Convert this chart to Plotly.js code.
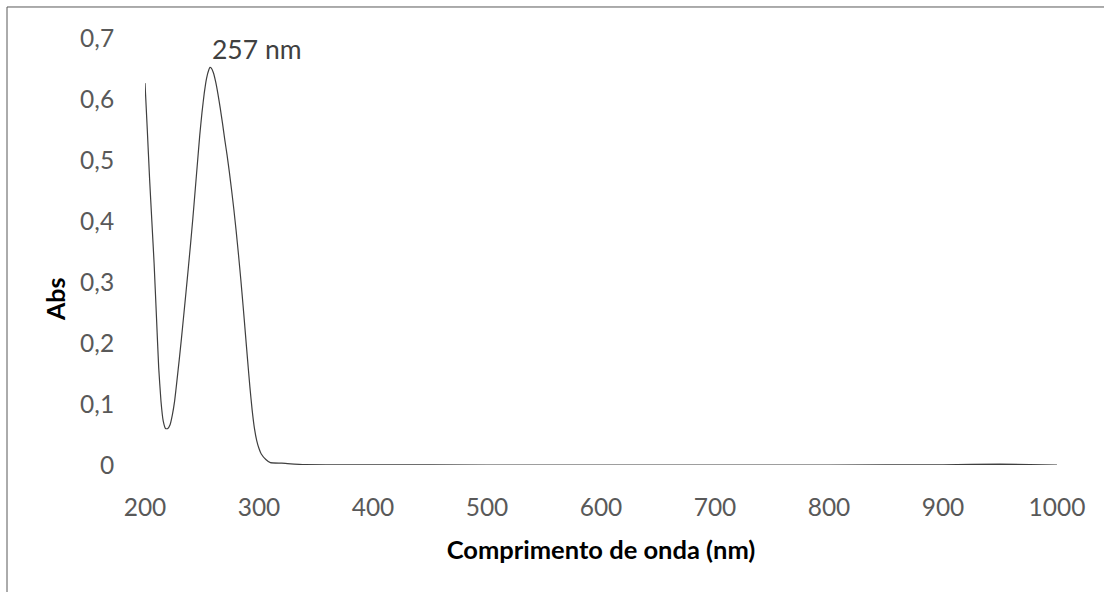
<!DOCTYPE html>
<html>
<head>
<meta charset="utf-8">
<script src="https://cdn.plot.ly/plotly-3.0.1.min.js"></script>
<style>
  html, body { margin: 0; padding: 0; background: #ffffff; }
  #chart { width: 1104px; height: 592px; }
</style>
</head>
<body>
<div id="chart"></div>
<script>
// UV-Vis absorption spectrum
const wavelength = [
  200, 202, 204, 206, 208, 210, 212, 214, 216, 218, 220, 222, 224, 226, 228,
  230, 232, 234, 236, 238, 240, 242, 244, 246, 248, 250, 252, 254, 256, 257,
  258, 260, 262, 264, 266, 268, 270, 272, 274, 276, 278, 280, 282, 284, 286,
  288, 290, 292, 294, 296, 298, 300, 302, 306, 310, 320, 340, 400, 500, 600,
  700, 800, 900, 950, 1000
];
const absorbance = [
  0.626, 0.55, 0.47, 0.40, 0.33, 0.245, 0.16, 0.105, 0.072, 0.060, 0.060, 0.066, 0.082, 0.105, 0.138,
  0.172, 0.208, 0.246, 0.284, 0.323, 0.363, 0.405, 0.45, 0.495, 0.54, 0.578, 0.61, 0.634, 0.648, 0.652,
  0.651, 0.643, 0.628, 0.608, 0.585, 0.56, 0.533, 0.508, 0.48, 0.45, 0.418, 0.383, 0.345, 0.305, 0.262,
  0.217, 0.172, 0.128, 0.09, 0.06, 0.04, 0.027, 0.018, 0.009, 0.004, 0.003, 0.0005, 0.0003, 0.0, 0.0,
  0.0, 0.0, 0.0003, 0.0015, 0.0
];

const yTickValues = [0, 0.1, 0.2, 0.3, 0.4, 0.5, 0.6, 0.7];
const yTickLabels = ['0', '0,1', '0,2', '0,3', '0,4', '0,5', '0,6', '0,7'];
const xTickValues = [200, 300, 400, 500, 600, 700, 800, 900, 1000];
const xTickLabels = ['200', '300', '400', '500', '600', '700', '800', '900', '1000'];

const peakWavelength = 257;
const peakAbsorbance = 0.652;
const peakLabel = '257 nm';
const xTitle = 'Comprimento de onda (nm)';
const yTitle = 'Abs';

const fontFamily = 'Lato, "Open Sans", sans-serif';

const trace = {
  x: wavelength,
  y: absorbance,
  type: 'scatter',
  mode: 'lines',
  line: { color: '#3f3f3f', width: 1.2, shape: 'spline', smoothing: 0.4 },
  hoverinfo: 'skip'
};

const layout = {
  width: 1104,
  height: 592,
  margin: { l: 145, r: 47, t: 38, b: 127 },
  paper_bgcolor: '#ffffff',
  plot_bgcolor: '#ffffff',
  showlegend: false,
  font: { family: fontFamily, color: '#595959', size: 24 },
  xaxis: {
    range: [200, 1000],
    tickvals: xTickValues,
    ticktext: xTickLabels,
    showgrid: false,
    zeroline: false,
    showline: false,
    ticks: 'outside',
    ticklen: 21,
    tickcolor: 'rgba(0,0,0,0)',
    tickfont: { family: fontFamily, size: 24.5, color: '#595959' },
    title: {
      text: '<b>' + xTitle + '</b>',
      font: { family: fontFamily, size: 25.5, color: '#000000' },
      standoff: 20
    },
    automargin: false
  },
  yaxis: {
    range: [0, 0.7],
    tickvals: yTickValues,
    ticktext: yTickLabels,
    showgrid: false,
    zeroline: false,
    showline: false,
    ticks: 'outside',
    ticklen: 25,
    tickcolor: 'rgba(0,0,0,0)',
    tickfont: { family: fontFamily, size: 24.5, color: '#595959' },
    automargin: false
  },
  annotations: [
    {
      x: peakWavelength,
      y: peakAbsorbance,
      xref: 'x',
      yref: 'y',
      text: peakLabel,
      showarrow: false,
      xanchor: 'left',
      yanchor: 'bottom',
      xshift: 0,
      yshift: 0,
      font: { family: fontFamily, size: 26.5, color: '#404040' }
    },
    {
      // vertical axis title
      x: -0.0985,
      y: 0.389,
      xref: 'paper',
      yref: 'paper',
      text: '<b>' + yTitle + '</b>',
      textangle: -90,
      showarrow: false,
      xanchor: 'center',
      yanchor: 'middle',
      font: { family: fontFamily, size: 25, color: '#000000' }
    }
  ],
  shapes: [
    // chart frame: left and top edges
    { type: 'line', xref: 'paper', yref: 'paper', x0: -0.1513, x1: -0.1513, y0: 1.0726, y1: -0.31,
      line: { color: '#595959', width: 1 } },
    { type: 'line', xref: 'paper', yref: 'paper', x0: -0.1513, x1: 1.06, y0: 1.0726, y1: 1.0726,
      line: { color: '#595959', width: 1 } }
  ]
};

Plotly.newPlot('chart', [trace], layout, { displayModeBar: false, staticPlot: true });
</script>
</body>
</html>
